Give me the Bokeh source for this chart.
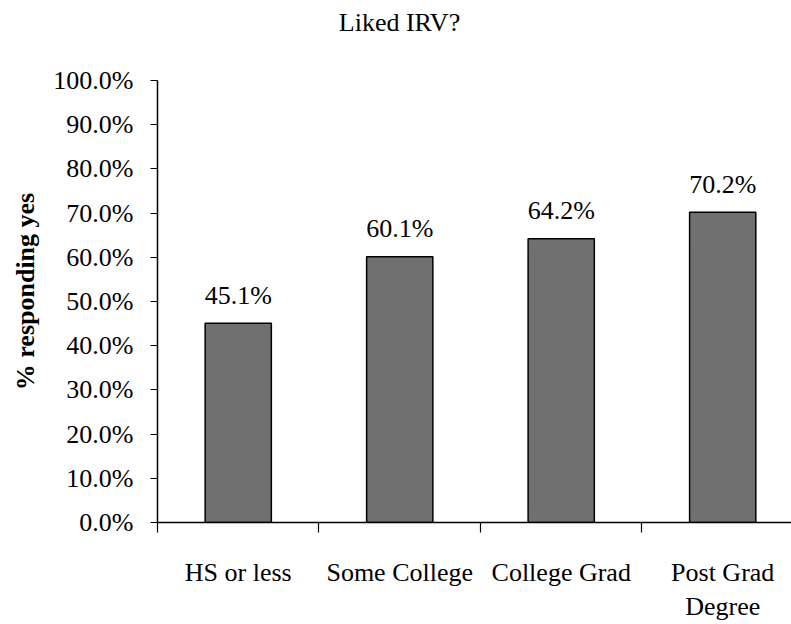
from bokeh.plotting import figure
from bokeh.models import Range1d, FixedTicker, NumeralTickFormatter, Div
from bokeh.layouts import column
from bokeh.embed import file_html
from bokeh.resources import INLINE
from bokeh.core.properties import value

title_text = "Liked IRV?"
categories = ["HS or less", "Some College", "College Grad", "Post Grad\nDegree"]
liked_yes = [0.451, 0.601, 0.642, 0.702]
y_ticks = [0.0, 0.1, 0.2, 0.3, 0.4, 0.5, 0.6, 0.7, 0.8, 0.9, 1.0]

FONT = "Liberation Serif"

xs = [i + 0.5 for i in range(len(categories))]
bounds = [float(i) for i in range(len(categories))]
labels = [f"{v*100:.1f}%" for v in liked_yes]

title_div = Div(text=title_text, width=791, height=44, margin=0,
                styles={"font-family": "'Liberation Serif'", "font-size": "26px",
                        "line-height": "30px", "color": "black", "text-align": "center",
                        "padding-top": "8px", "padding-left": "8px",
                        "box-sizing": "border-box"})

# frame extends slightly above 100% so the y-axis title is centred like the original;
# the y axis itself is bounded to 0..100%
p = figure(width=791, height=580, output_backend="svg", toolbar_location=None,
           x_range=Range1d(0, 3.926), y_range=Range1d(0, 1.0452),
           min_border_left=157, min_border_right=0, min_border_top=16, min_border_bottom=102)
p.title = None

p.vbar(x=xs, top=liked_yes, width=0.41, bottom=0, fill_color="#707070",
       line_color="black", line_width=1.5)
p.text(x=xs, y=liked_yes, text=labels, text_align="center", text_baseline="alphabetic",
       y_offset=-28, text_font=value(FONT), text_font_size="26px", text_color="black")

p.xgrid.grid_line_color = None
p.ygrid.grid_line_color = None
p.outline_line_color = None
p.background_fill_color = "white"

xa = p.xaxis[0]
xa.ticker = FixedTicker(ticks=xs, minor_ticks=bounds)
xa.major_label_overrides = {x: c for x, c in zip(xs, categories)}
xa.major_tick_line_color = None
xa.major_tick_out = 0
xa.major_tick_in = 0
xa.minor_tick_out = 10
xa.minor_tick_in = 0
xa.minor_tick_line_color = "black"
xa.minor_tick_line_width = 1.2
xa.axis_line_color = "black"
xa.axis_line_width = 1.5
xa.major_label_standoff = 25
xa.major_label_text_font = FONT
xa.major_label_text_font_size = "26px"
xa.major_label_text_color = "black"

ya = p.yaxis[0]
ya.bounds = (y_ticks[0], y_ticks[-1])
ya.ticker = FixedTicker(ticks=y_ticks, minor_ticks=[])
ya.formatter = NumeralTickFormatter(format="0.0%")
ya.major_tick_out = 7
ya.major_tick_in = 0
ya.major_tick_line_color = "black"
ya.major_tick_line_width = 1.2
ya.axis_line_color = "black"
ya.axis_line_width = 1.5
ya.major_label_standoff = 17
ya.major_label_text_font = FONT
ya.major_label_text_font_size = "26px"
ya.major_label_text_color = "black"
ya.axis_label = "% responding yes"
ya.axis_label_text_font = FONT
ya.axis_label_text_font_size = "26px"
ya.axis_label_text_font_style = "bold"
ya.axis_label_text_color = "black"
ya.axis_label_standoff = 10

layout = column(title_div, p, spacing=0)
open("out.html", "w").write(file_html(layout, INLINE))
